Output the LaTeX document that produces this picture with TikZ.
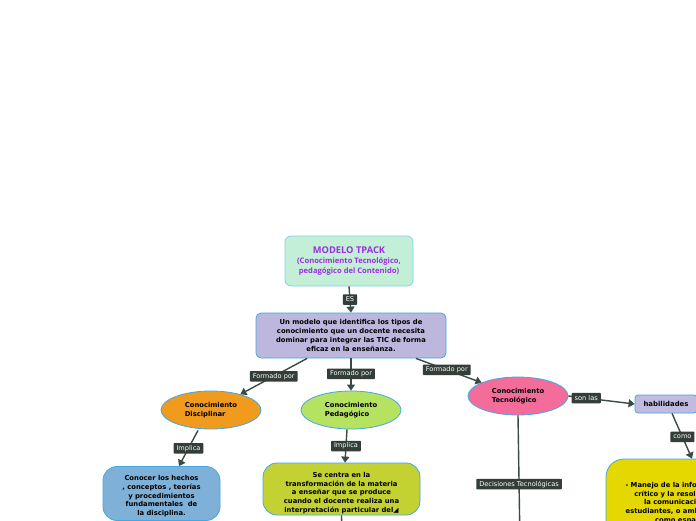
\documentclass[tikz,border=0pt]{standalone}
\usepackage{fontspec}
\setmainfont{DejaVu Sans}
\newfontfamily\titlefont{Open Sans}
\usetikzlibrary{arrows.meta,shapes.geometric,calc}
\definecolor{bordblue}{HTML}{3FA9E8}
\definecolor{topborder}{HTML}{7FD2EA}
\definecolor{topfill}{HTML}{C3EFD6}
\definecolor{titlepurple}{HTML}{9B2FE0}
\definecolor{lavender}{HTML}{BDB7DD}
\definecolor{orangefill}{HTML}{F09A1E}
\definecolor{lgreen}{HTML}{B5E260}
\definecolor{pinkfill}{HTML}{F46C9A}
\definecolor{bluefill}{HTML}{7EB0D8}
\definecolor{olivefill}{HTML}{C3D232}
\definecolor{yellowfill}{HTML}{E5D800}
\definecolor{habfill}{HTML}{C2BBE0}
\definecolor{linecol}{HTML}{3B4A42}
\definecolor{lblfill}{HTML}{343E38}
\begin{document}
\begin{tikzpicture}[x=1pt,y=-1pt,
  box/.style={rectangle, rounded corners=#1, draw=bordblue, line width=0.8pt, inner sep=0pt, align=center, font=\bfseries\fontsize{6.8}{8.7}\selectfont},
  box/.default=5pt,
  oval/.style={ellipse, draw=bordblue, line width=0.8pt, minimum width=100pt, minimum height=38pt, inner sep=0pt, align=left, font=\bfseries\fontsize{6.8}{9}\selectfont},
  conn/.style={draw=linecol, line width=1.4pt, -{Triangle[width=8pt,length=6pt]}},
  connplain/.style={draw=linecol, line width=1.4pt},
  lbl/.style={fill=lblfill, text=white, font=\fontsize{6.6}{7}\selectfont, inner xsep=3pt, inner ysep=2pt, minimum height=10.5pt, rounded corners=0.8pt}
]
\useasboundingbox (0,0) rectangle (696,520);
\clip (0,0) rectangle (696,520);
\fill[white] (0,0) rectangle (696,520);

% nodes
\node[box=6pt, draw=topborder, fill=topfill, minimum width=128pt, minimum height=50pt, text=titlepurple, font=\titlefont\bfseries\fontsize{7.6}{9.8}\selectfont] (top) at (349,261)
  {\fontsize{9.3}{11}\selectfont MODELO TPACK\\[0.5pt]
   \fontsize{7.6}{9.8}\selectfont (Conocimiento Tecnológico,\\ pedagógico del Contenido)};

\node[box, fill=lavender, minimum width=190pt, minimum height=45pt] (def) at (351,335.5)
  {Un modelo que identifica los tipos de\\ conocimiento que un docente necesita\\ dominar para integrar las TIC de forma\\ eficaz en la enseñanza.};

\node[oval, fill=orangefill] (disc) at (211,410) {Conocimiento\\ Disciplinar};
\node[oval, fill=lgreen] (ped) at (351,410) {Conocimiento\\ Pedagógico};
\node[oval, fill=pinkfill] (tec) at (518,396) {Conocimiento\\ Tecnológico};

\node[box=14pt, fill=bluefill, minimum width=117pt, minimum height=54pt] (conocer) at (161.5,493.5)
  {\rule{0pt}{10.5pt}Conocer los hechos\\ , conceptos , teorías\\ y procedimientos\\ fundamentales\ \ de\\ la disciplina.};

\node[box=14pt, fill=olivefill, minimum width=157pt, minimum height=52pt] (centra) at (341.5,489)
  {\rule{0pt}{13pt}Se centra en la\\ transformación de la materia\\ a enseñar que se produce\\ cuando el docente realiza una\\ interpretación particular del◢};

\node[box=3pt, fill=habfill, minimum width=62pt, minimum height=18pt, font=\bfseries\fontsize{6.9}{8}\selectfont] (hab) at (666,404) {habilidades};

\node[box=18pt, fill=yellowfill, minimum width=196pt, minimum height=84pt] (yellow) at (704,501)
  {\rule{0pt}{9pt}- Manejo de la información, pensamiento\\ crítico y la resolución de problemas,\\ la comunicación y colaboración\\ estudiantes, o ambientes de aprendizaje\\ como espacios de trabajo};

\coordinate (tecend) at (520,545);
\coordinate (cenend) at (342,545);

% connectors
\draw[conn] (top.south) -- node[lbl]{ES} (def.north);
\draw[conn] ($(def.south west)!0.27!(def.south east)$) -- node[lbl]{Formado por} (disc);
\draw[conn] (def.south) -- node[lbl, pos=0.48]{Formado por} (ped.north);
\draw[conn] ($(def.south west)!0.84!(def.south east)$) -- node[lbl, pos=0.47]{Formado por} (tec);
\draw[conn] ([xshift=-13pt,yshift=-1pt]disc.south) -- node[lbl]{Implica} ([xshift=17.5pt]conocer.north);
\draw[conn] ([xshift=-4pt]ped.south) -- node[lbl]{Implica} ([xshift=3.5pt]centra.north);
\draw[conn] (tec.east) -- node[lbl, pos=0.27]{son las} (hab.west);
\draw[conn] ([xshift=6pt]hab.south) -- node[lbl, pos=0.52]{como} ([xshift=-12pt]yellow.north);
\draw[connplain] (tec.south) -- node[lbl, pos=0.53]{Decisiones Tecnológicas} (tecend);
\draw[connplain] (centra.south) -- (cenend);
\end{tikzpicture}
\end{document}
